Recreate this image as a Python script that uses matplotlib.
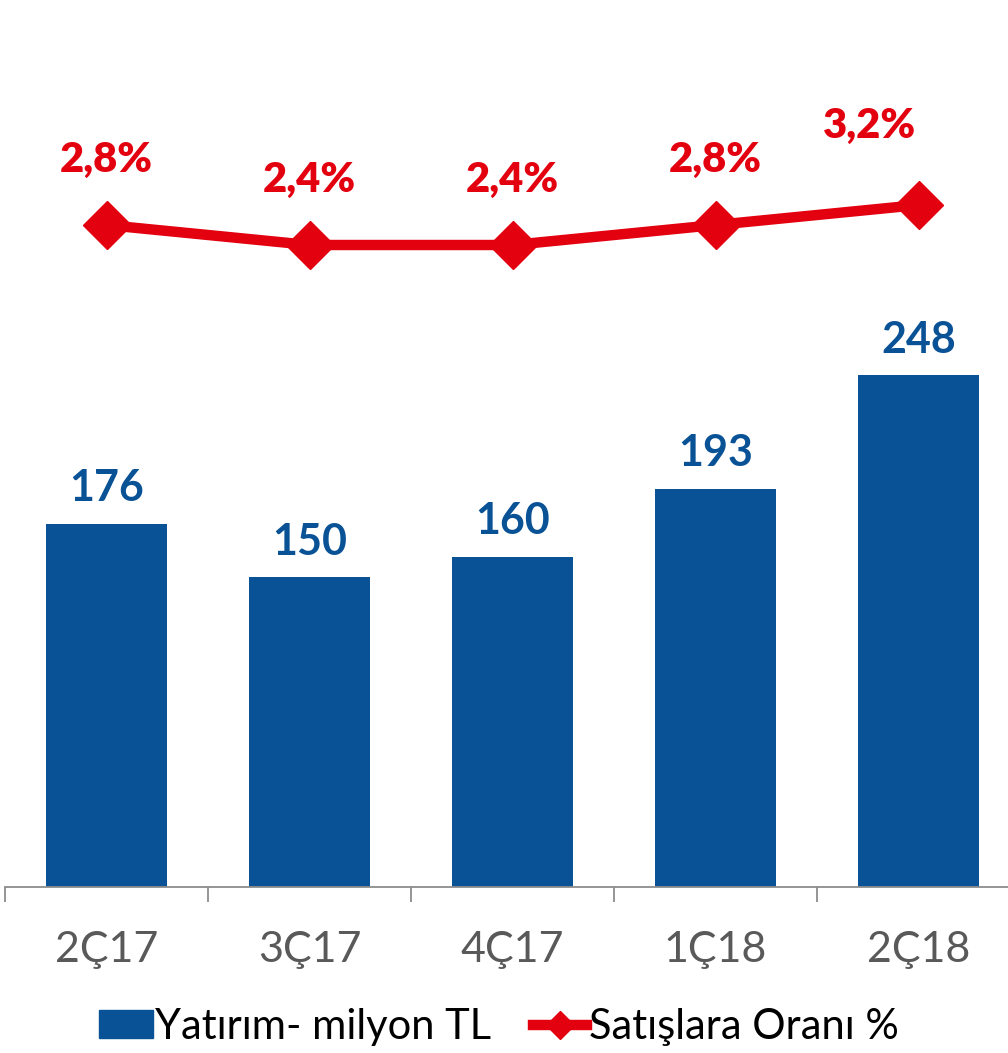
import matplotlib.pyplot as plt
from matplotlib.lines import Line2D
from matplotlib.patches import Patch

# data
quarters = ['2Ç17', '3Ç17', '4Ç17', '1Ç18', '2Ç18']
yatirim = [176, 150, 160, 193, 248]
oran = [2.8, 2.4, 2.4, 2.8, 3.2]
oran_labels = ['2,8%', '2,4%', '2,4%', '2,8%', '3,2%']

BLUE = '#0A5296'
RED = '#E3000F'
GRAY = '#595959'

plt.rcParams['font.family'] = ['Lato', 'DejaVu Sans']


def main():
    fig = plt.figure(figsize=(10.08, 10.53), dpi=100)
    ax = fig.add_axes([5 / 1008, 1 - 887 / 1053, 1015 / 1008, 887 / 1053])

    x = list(range(len(quarters)))
    ax.bar(x, yatirim, width=0.595, color=BLUE, zorder=2)
    for xi, v in zip(x, yatirim):
        ax.annotate(str(v), (xi, v), xytext=(0, 11), textcoords='offset points',
                    ha='center', va='bottom', fontsize=31, fontweight='bold', color=BLUE)

    ax.set_xlim(-0.5, len(quarters) - 0.5)
    ax.set_ylim(0, 429.6)
    ax.set_xticks(x)
    ax.set_xticklabels(quarters, fontsize=31, color=GRAY)
    ax.set_xticks([i - 0.5 for i in range(len(quarters) + 1)], minor=True)
    ax.tick_params(axis='x', which='major', length=0, pad=32)
    ax.tick_params(axis='x', which='minor', length=11, width=1.3, color='#8C8C8C', direction='out')
    ax.set_yticks([])
    for s in ['top', 'right', 'left']:
        ax.spines[s].set_visible(False)
    ax.spines['bottom'].set_color('#8C8C8C')
    ax.spines['bottom'].set_linewidth(1.3)

    ax2 = ax.twinx()
    ax2.plot(x, oran, color=RED, lw=7.5, marker='D', markersize=24, zorder=3)
    ax2.set_ylim(-10.44, 7.3)
    ax2.set_yticks([])
    for s in ax2.spines.values():
        s.set_visible(False)
    offsets = [(0, 33), (0, 33), (0, 33), (0, 33), (-35, 43)]
    for xi, v, lab, off in zip(x, oran, oran_labels, offsets):
        ax2.annotate(lab, (xi, v), xytext=off, textcoords='offset points',
                     ha='center', va='bottom', fontsize=30, fontweight='heavy', color=RED)

    handles = [Patch(color=BLUE, label='Yatırım- milyon TL'),
               Line2D([0], [0], color=RED, lw=7.5, marker='D', markersize=14,
                      label='Satışlara Oranı %')]
    fig.legend(handles=handles, loc='center', bbox_to_anchor=(0.495, 1 - 1027 / 1053),
               ncol=2, frameon=False, fontsize=30, handlelength=1.3, handleheight=0.65,
               handletextpad=0.05, columnspacing=1.0)

    fig.savefig('out.png', dpi=100)


if __name__ == "__main__":
    main()
